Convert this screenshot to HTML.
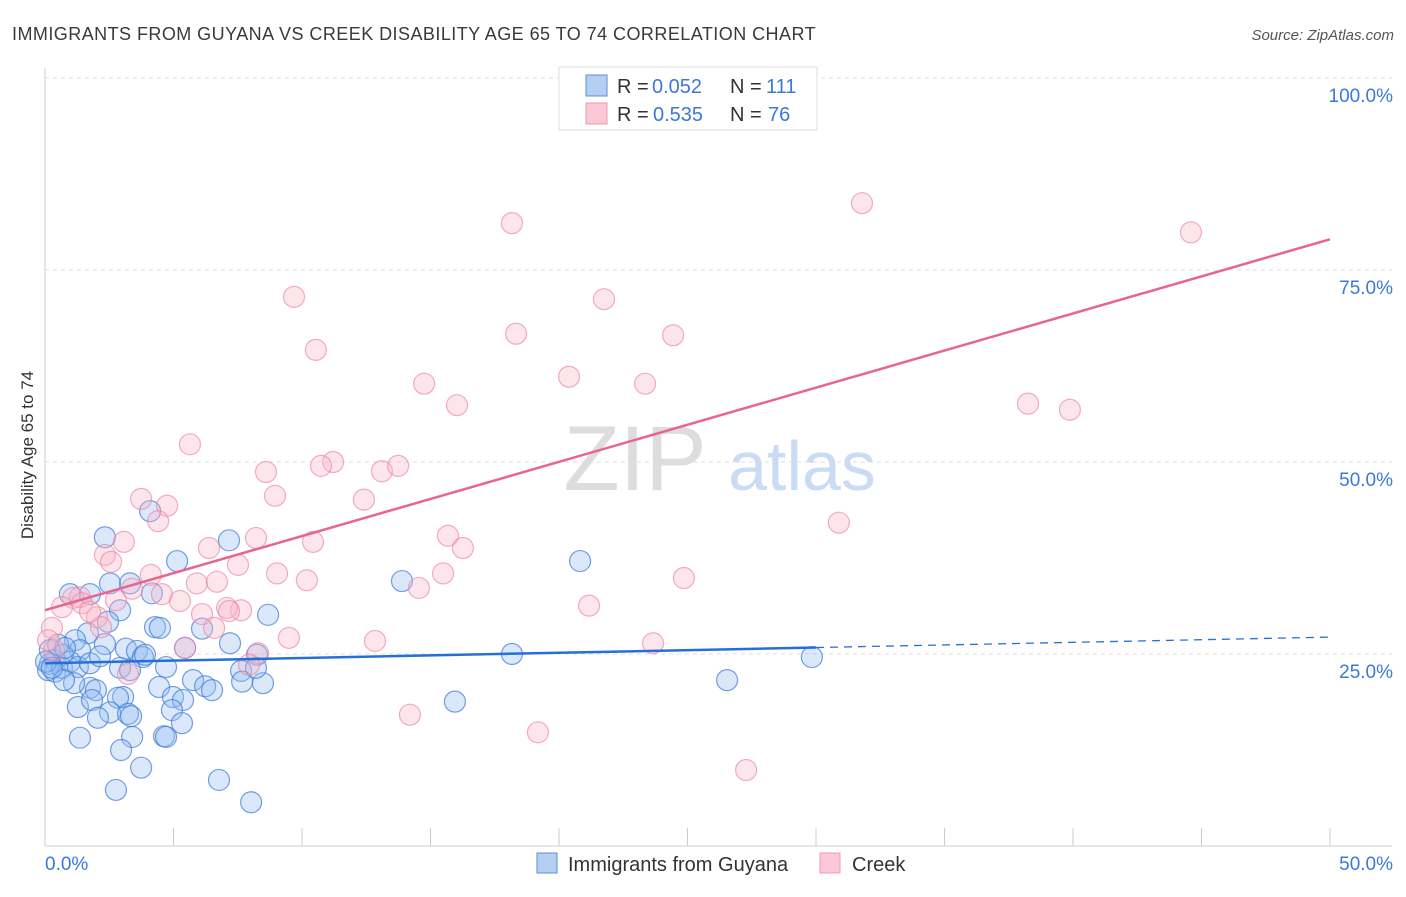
<!DOCTYPE html>
<html><head><meta charset="utf-8">
<style>
body{margin:0;background:#fff;font-family:"Liberation Sans",sans-serif;}
svg text{font-family:"Liberation Sans",sans-serif;}
</style></head>
<body>
<svg id="chart" width="1406" height="892" xmlns="http://www.w3.org/2000/svg">
<text x="12" y="40" font-size="18" letter-spacing="0.45" fill="#3a3a3a">IMMIGRANTS FROM GUYANA VS CREEK DISABILITY AGE 65 TO 74 CORRELATION CHART</text>
<text x="1394" y="40" font-size="15" fill="#555" font-style="italic" text-anchor="end">Source: ZipAtlas.com</text>
<g>
<text x="635" y="490" font-size="92" fill="#ddd" font-family="Liberation Serif,serif" text-anchor="middle">ZIP</text>
<text x="802" y="490" font-size="70" fill="#c9dcf3" text-anchor="middle">atlas</text>
</g>
<g id="grid"></g>
<g id="axes"></g>
<g id="points"></g>
<g id="trends"></g>
<text x="33" y="455" font-size="17" fill="#333" text-anchor="middle" transform="rotate(-90 33 455)">Disability Age 65 to 74</text>
<g>
<rect x="559" y="67" width="258" height="63" fill="#fff" stroke="#ddd"/>
<rect x="586" y="75" width="21" height="21" fill="#b4cff2" stroke="#5b8fd6"/>
<rect x="586" y="103" width="21" height="21" fill="#fbc8d7" stroke="#ec9ab3"/>
<text x="617" y="93" font-size="20" fill="#333">R =</text>
<text x="652" y="93" font-size="20" fill="#3b78d8">0.052</text>
<text x="730" y="93" font-size="20" fill="#333">N =</text>
<text x="766" y="93" font-size="20" fill="#3b78d8">111</text>
<text x="617" y="121" font-size="20" fill="#333">R =</text>
<text x="653" y="121" font-size="20" fill="#3b78d8">0.535</text>
<text x="730" y="121" font-size="20" fill="#333">N =</text>
<text x="768" y="121" font-size="20" fill="#3b78d8">76</text>
</g>
<g>
<rect x="537" y="853" width="20" height="20" fill="#b4cff2" stroke="#5b8fd6"/>
<text x="568" y="871" font-size="20" fill="#333">Immigrants from Guyana</text>
<rect x="820" y="853" width="20" height="20" fill="#fbc8d7" stroke="#ec9ab3"/>
<text x="852" y="871" font-size="20" fill="#333">Creek</text>
</g>
</svg>
<script>
const blueX=[2.33,4.09,7.16,5.14,2.53,3.31,4.16,0.97,1.75,2.92,2.45,4.28,4.47,8.68,5.45,7.20,6.11,3.15,3.58,3.81,2.33,1.67,1.17,1.36,0.70,0.39,0.19,0.12,0.39,0.66,0.97,1.28,1.75,2.14,2.92,3.89,4.71,5.76,6.23,6.50,7.63,7.67,8.25,8.48,8.21,3.31,1.75,1.98,1.13,0.74,3.04,2.84,4.44,4.98,5.37,1.28,1.83,2.53,3.23,3.35,4.94,5.33,2.06,1.36,3.39,4.63,4.71,2.96,3.74,6.77,2.76,8.02,13.89,20.82,15.95,18.17,26.54,29.84,0.19,0.04,0.27,0.51,0.78];
const blueY=[40.2,43.6,39.8,37.1,34.2,34.2,32.9,32.8,32.8,30.7,29.2,28.5,28.4,30.1,25.8,26.4,28.3,25.7,25.4,24.6,26.3,27.7,26.8,25.5,24.9,24.2,23.7,22.9,22.7,23.2,24.0,23.3,23.8,24.7,23.2,24.9,23.3,21.6,20.8,20.3,22.8,21.4,24.9,21.2,23.2,22.9,20.6,20.3,21.2,21.6,19.4,19.3,20.7,19.4,19.0,18.1,19.0,17.4,17.2,16.9,17.7,16.0,16.7,14.1,14.2,14.3,14.2,12.5,10.2,8.6,7.3,5.7,34.5,37.1,18.8,25.0,21.6,24.6,25.5,24.0,23.2,26.2,25.8];
const pinkX=[27.04,18.17,31.79,44.59,9.69,21.75,18.33,24.44,10.54,14.75,20.39,23.35,16.03,38.25,39.88,5.64,11.21,10.74,13.11,13.74,8.60,8.95,3.74,4.75,12.41,4.40,30.89,3.07,8.21,10.43,15.68,6.38,16.26,2.33,2.57,7.51,9.03,4.12,10.19,24.86,15.49,5.91,6.69,14.55,3.39,4.55,1.36,1.09,2.76,5.25,0.66,1.44,7.63,7.08,7.16,6.11,21.17,2.02,0.27,6.58,2.18,9.49,12.84,23.66,5.45,8.29,7.94,0.35,3.23,14.20,19.18,27.28,0.12,1.75];
const pinkY=[100.0,81.1,83.7,79.9,71.5,71.2,66.7,66.5,64.6,60.2,61.1,60.2,57.4,57.6,56.8,52.3,50.0,49.5,48.8,49.5,48.7,45.6,45.2,44.3,45.1,42.3,42.1,39.6,40.1,39.6,40.4,38.8,38.8,37.9,37.0,36.6,35.5,35.3,34.6,34.9,35.5,34.2,34.4,33.6,33.5,32.8,32.4,32.3,32.0,31.9,31.1,31.6,30.7,31.0,30.6,30.2,31.3,29.8,28.4,28.4,28.5,27.1,26.7,26.4,25.8,25.1,23.6,25.5,22.4,17.1,14.8,9.9,26.8,30.5];
const yTicks=[25,50,75,100];
const yTickLabels=["25.0%","50.0%","75.0%","100.0%"];
const xTicks=[0,5,10,15,20,25,30,35,40,45,50];
const blueTrend=[23.8,27.2];
const blueSolidEnd=30;
const pinkTrend=[30.7,79.0];

const NS="http://www.w3.org/2000/svg";
const X0=45,X1=1330,Y0=846,Y100=78;
const sx=v=>X0+(X1-X0)*v/50;
const sy=v=>Y0-(Y0-Y100)*v/100;
function mk(tag,attrs,parent){const e=document.createElementNS(NS,tag);for(const k in attrs)e.setAttribute(k,attrs[k]);parent.appendChild(e);return e;}
const grid=document.getElementById('grid'),axes=document.getElementById('axes'),pts=document.getElementById('points'),tr=document.getElementById('trends');
yTicks.forEach((t,i)=>{
 const l=mk('line',{x1:X0,x2:1392,y1:sy(t),y2:sy(t),stroke:'#ddd','stroke-dasharray':'4 4'},grid);
 
 
 const tx=mk('text',{x:1393,y:sy(t)+24,'font-size':19,fill:'#3b78d8','text-anchor':'end'},axes);
 tx.textContent=yTickLabels[i];
 
 
});
const ya=mk('line',{x1:X0,x2:X0,y1:68,y2:Y0,stroke:'#ccc'},axes);


const xa=mk('line',{x1:X0,x2:1392,y1:Y0,y2:Y0,stroke:'#ccc'},axes);


xTicks.forEach(t=>{
 const l=mk('line',{x1:sx(t),x2:sx(t),y1:828,y2:Y0,stroke:'#ccc'},axes);
 
 
});
const xl0=mk('text',{x:45,y:870,'font-size':19,fill:'#3b78d8'},axes);xl0.textContent='0.0%';


const xl1=mk('text',{x:1393,y:870,'font-size':19,fill:'#3b78d8','text-anchor':'end'},axes);xl1.textContent='50.0%';


blueX.forEach((x,i)=>{
 const c=mk('circle',{cx:sx(x),cy:sy(blueY[i]),r:10.5,fill:'rgba(150,190,240,0.35)',stroke:'rgba(60,120,215,0.7)','stroke-width':1.2},pts);
 
 
});
pinkX.forEach((x,i)=>{
 const c=mk('circle',{cx:sx(x),cy:sy(pinkY[i]),r:10.5,fill:'rgba(248,180,200,0.35)',stroke:'rgba(235,130,165,0.65)','stroke-width':1.2},pts);
 
 
});
const bAt=x=>blueTrend[0]+(blueTrend[1]-blueTrend[0])*x/50;
const b1=mk('line',{x1:sx(0),y1:sy(bAt(0)),x2:sx(blueSolidEnd),y2:sy(bAt(blueSolidEnd)),stroke:'#2470d8','stroke-width':2.5},tr);


const b2=mk('line',{x1:sx(blueSolidEnd),y1:sy(bAt(blueSolidEnd)),x2:sx(50),y2:sy(bAt(50)),stroke:'#2470d8','stroke-width':1.3,'stroke-dasharray':'8 6'},tr);


const p1=mk('line',{x1:sx(0),y1:sy(pinkTrend[0]),x2:sx(50),y2:sy(pinkTrend[1]),stroke:'#e8658f','stroke-width':2.5},tr);


</script>
</body></html>
